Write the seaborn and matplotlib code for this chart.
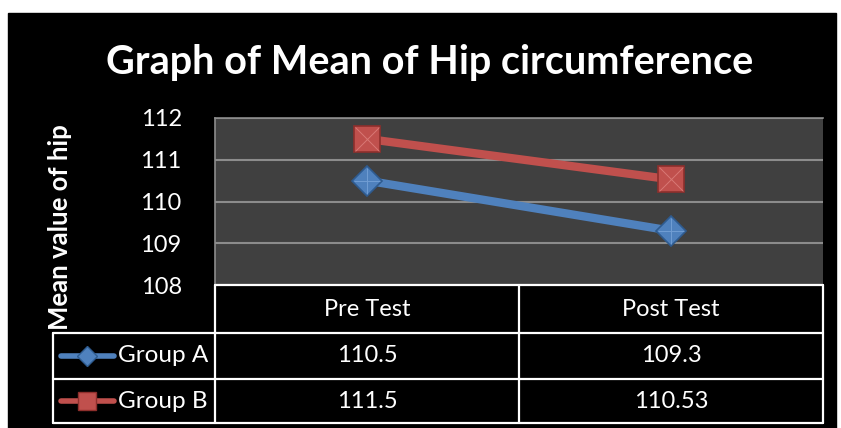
import matplotlib
matplotlib.use("Agg")
import matplotlib.pyplot as plt
import matplotlib.transforms as mtransforms
from matplotlib.patches import Rectangle
import pandas as pd
import seaborn as sns

# ---------------------------------------------------------------------------
# Data
# ---------------------------------------------------------------------------
categories = ["Pre Test", "Post Test"]
groups = ["Group A", "Group B"]
group_a = [110.5, 109.3]
group_b = [111.5, 110.53]
y_ticks = [108, 109, 110, 111, 112]

COLORS = {"Group A": "#4F81BD", "Group B": "#C0504D"}
EDGES = {"Group A": "#2E5B8F", "Group B": "#8E2F2C"}
BEVEL = {"Group A": "#8DB4E6", "Group B": "#EE9A96"}
MARKERS = {"Group A": "D", "Group B": "s"}
MSIZE = {"Group A": 15, "Group B": 19}

df = pd.DataFrame({
    "pos": list(range(len(categories))) * len(groups),
    "category": categories * len(groups),
    "group": [g for g in groups for _ in categories],
    "value": group_a + group_b,
})

sns.set_theme(style="dark")
plt.rcParams["font.family"] = ["Lato", "DejaVu Sans"]

W, H = 841, 428
fig = plt.figure(figsize=(W / 100, H / 100), dpi=100, facecolor="white")


def px(x0, y0, x1, y1):
    return [x0 / W, 1 - y1 / H, (x1 - x0) / W, (y1 - y0) / H]


# black chart background
bg = fig.add_axes([0, 0, 1, 1])
bg.set_xlim(0, W)
bg.set_ylim(H, 0)
bg.axis("off")
bg.add_patch(Rectangle((8, 13), 828, 415, color="black"))

bg.text(430, 62, "Graph of Mean of Hip circumference", color="white",
        fontsize=28.5, fontweight="bold", ha="center", va="center")
bg.text(60, 227, "Mean value of hip", color="white", fontsize=18.5,
        fontweight="bold", rotation=90, ha="center", va="center")

# ---------------------------------------------------------------------------
# Plot area
# ---------------------------------------------------------------------------
ax = fig.add_axes(px(215, 118, 823, 285))
ax.set_facecolor("#404040")
sns.lineplot(data=df, x="pos", y="value", hue="group", style="group",
             markers=MARKERS, dashes=False, palette=COLORS, linewidth=6,
             markersize=19, ax=ax, legend=False, zorder=3)
for line, g in zip(ax.lines, groups):
    line.set_markeredgecolor(EDGES[g])
    line.set_markeredgewidth(1.2)
    line.set_markersize(MSIZE[g])
    # soft bevel ridges on the markers
    bevel = "+" if MARKERS[g] == "D" else "x"
    ax.plot(line.get_xdata(), line.get_ydata(), ls="none", marker=bevel,
            markersize=MSIZE[g] * (1.35 if bevel == "+" else 1.0) - 2,
            markeredgewidth=0.7, color=BEVEL[g], alpha=0.55, zorder=4)

ax.set_xlim(-0.5, len(categories) - 0.5)
ax.set_ylim(y_ticks[0], y_ticks[-1])
ax.set_yticks(y_ticks)
ax.set_xticks([])
ax.set_xlabel("")
ax.set_ylabel("")
ax.grid(axis="y", color="#8c8c8c", linewidth=1.5)
ax.grid(axis="x", visible=False)
ax.tick_params(axis="y", length=0, pad=24, labelcolor="white", labelsize=17)
for side in ["top", "left"]:
    ax.spines[side].set_color("#8c8c8c")
    ax.spines[side].set_linewidth(1.2)
ax.spines["right"].set_visible(False)
ax.spines["bottom"].set_visible(False)

# ---------------------------------------------------------------------------
# Data table below the plot
# ---------------------------------------------------------------------------
top = fig.add_axes([0, 0, 1, 1])
top.set_xlim(0, W)
top.set_ylim(H, 0)
top.axis("off")
top.patch.set_alpha(0)

lw = 1.6
top.plot([215, 823], [285, 285], color="white", lw=lw)
for y in [333, 379, 423]:
    top.plot([53, 823], [y, y], color="white", lw=lw)
top.plot([53, 53], [333, 423], color="white", lw=lw)
for x in [215, 519, 823]:
    top.plot([x, x], [285, 423], color="white", lw=lw)

mix = mtransforms.blended_transform_factory(ax.transData, top.transData)
for i, cat in enumerate(categories):
    top.text(i, 310, cat, transform=mix, color="white", fontsize=17,
             ha="center", va="center")

row_y = [356, 401]
for g, vals, y in zip(groups, [group_a, group_b], row_y):
    for i, v in enumerate(vals):
        top.text(i, y, f"{v:g}", transform=mix, color="white", fontsize=17,
                 ha="center", va="center")
    top.plot([61, 114], [y, y], color=COLORS[g], lw=4, solid_capstyle="round")
    top.plot([87.5], [y], marker=MARKERS[g], markersize=10 if g == "Group A" else 13,
             color=COLORS[g], markeredgecolor=EDGES[g], markeredgewidth=1)
    top.text(118, y, g, color="white", fontsize=17.5, ha="left", va="center")

fig.savefig("out.png", dpi=100, facecolor=fig.get_facecolor())
